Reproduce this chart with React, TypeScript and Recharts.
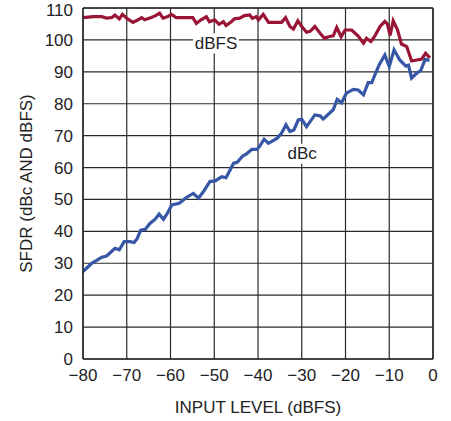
import React from 'react';
import { LineChart, Line, XAxis, YAxis, CartesianGrid, ReferenceDot, ReferenceLine } from 'recharts';

const dbfsX = [-80, -77.6, -75.7, -74.6, -73.4, -72.7, -71.7, -71.0, -70.0, -68.6, -67.4, -66.6, -65.9, -64.4, -63.4, -62.5, -61.7, -60.6, -59.8, -58.7, -54.9, -54.1, -53.0, -51.8, -51.1, -49.9, -48.9, -47.9, -47.3, -46.1, -45.4, -44.2, -43.1, -41.9, -41.3, -40.4, -39.9, -38.8, -37.6, -34.6, -33.7, -32.7, -31.9, -30.9, -30.0, -28.9, -28.1, -27.0, -25.8, -24.8, -23.9, -22.8, -22.0, -21.0, -20.1, -18.6, -17.8, -17.1, -15.9, -15.2, -14.2, -13.3, -12.1, -11.0, -10.4, -9.8, -9.1, -8.1, -7.2, -6.0, -4.9, -3.7, -2.6, -1.7, -0.7];
const dbfsY = [107.0, 107.3, 107.3, 106.8, 107.0, 107.8, 106.6, 108.0, 106.8, 105.5, 106.3, 107.0, 106.3, 107.0, 107.6, 108.4, 106.8, 107.3, 108.0, 107.0, 107.0, 105.2, 106.3, 107.3, 105.7, 106.3, 104.9, 105.7, 104.5, 105.7, 106.6, 106.8, 107.6, 107.8, 106.8, 107.3, 106.3, 108.0, 105.5, 105.5, 107.0, 104.2, 103.4, 106.0, 104.2, 102.4, 102.7, 104.2, 102.1, 100.5, 101.0, 101.3, 103.9, 101.0, 103.1, 103.1, 102.1, 101.2, 99.0, 100.5, 99.5, 101.2, 104.2, 105.8, 104.9, 101.4, 106.0, 103.1, 98.7, 97.9, 93.4, 93.7, 94.0, 95.8, 94.4];

const dbcX = [-80, -78.0, -75.7, -74.6, -72.7, -71.7, -70.6, -69.3, -68.3, -67.6, -66.8, -65.8, -64.7, -63.5, -62.6, -61.6, -60.7, -59.7, -58.0, -56.3, -54.8, -53.6, -52.5, -51.0, -49.8, -48.3, -47.3, -45.6, -44.7, -43.5, -42.6, -41.4, -40.3, -39.7, -38.6, -37.6, -35.6, -34.6, -33.6, -32.7, -31.8, -30.8, -30.0, -28.9, -27.0, -25.8, -25.1, -22.8, -21.9, -20.9, -19.8, -18.2, -17.1, -15.9, -14.8, -14.0, -13.3, -12.3, -11.0, -10.0, -8.9, -7.6, -6.2, -5.6, -4.9, -3.7, -2.8, -1.8, -0.8];
const dbcY = [27.4, 30.0, 31.9, 32.3, 34.7, 34.2, 36.8, 36.8, 36.5, 37.8, 40.4, 40.6, 42.5, 43.8, 45.4, 43.8, 45.7, 48.3, 48.8, 50.7, 51.9, 50.4, 52.4, 55.6, 55.8, 57.1, 56.8, 61.3, 61.7, 63.6, 64.3, 65.7, 65.7, 66.5, 68.9, 67.6, 69.2, 70.8, 73.4, 71.3, 71.8, 74.9, 75.1, 72.8, 76.5, 76.2, 75.2, 78.1, 81.4, 80.3, 83.3, 84.5, 84.3, 82.8, 86.6, 86.6, 89.0, 92.2, 95.3, 91.6, 96.9, 93.7, 91.8, 92.1, 88.0, 89.6, 90.4, 93.9, 93.6];

const xTicks = [-80, -70, -60, -50, -40, -30, -20, -10, 0];
const yTicks = [0, 10, 20, 30, 40, 50, 60, 70, 80, 90, 100, 110];

const dbfsData = dbfsX.map((x, i) => ({ x, y: dbfsY[i] }));
const dbcData = dbcX.map((x, i) => ({ x, y: dbcY[i] }));

const FONT = '"Liberation Sans Narrow", "Arial Narrow", "Liberation Sans", sans-serif';
const RED = '#9a1535';
const BLUE = '#3656a6';
const GRID = '#2a2a2a';

const labelShape = (text: string, w: number) => (props: any) => {
  const { cx, cy } = props;
  return (
    <g>
      <rect x={cx - w / 2} y={cy - 10} width={w} height={20} fill="#fff" />
      <text x={cx} y={cy} textAnchor="middle" dominantBaseline="central" fontFamily={FONT} fontSize={17} fill="#222">{text}</text>
    </g>
  );
};

const fmt = (v: number) => String(v).replace('-', '\u2212');

export default function App() {
  return (
    <div style={{ position: 'absolute', left: 0, top: 0, background: '#fff' }}>
      <LineChart width={451} height={421} margin={{ top: 8, right: 18, left: 0, bottom: 0 }}>
        <CartesianGrid stroke={GRID} strokeWidth={1.2} />
        <XAxis
          type="number"
          dataKey="x"
          domain={[-80, 0]}
          ticks={xTicks}
          tickFormatter={fmt}
          height={62}
          tickSize={0}
          tickMargin={10}
          axisLine={{ stroke: GRID, strokeWidth: 1.5 }}
          tick={{ fontFamily: FONT, fontSize: 17, fill: '#222' }}
          allowDataOverflow
          label={{ value: 'INPUT LEVEL (dBFS)', position: 'insideBottom', offset: 8, style: { fontFamily: FONT, fontSize: 17, fill: '#222' } }}
        />
        <YAxis
          type="number"
          dataKey="y"
          domain={[0, 110]}
          ticks={yTicks}
          width={83}
          tickSize={0}
          tickMargin={10}
          axisLine={{ stroke: GRID, strokeWidth: 1.5 }}
          tick={{ fontFamily: FONT, fontSize: 17, fill: '#222' }}
          allowDataOverflow
          label={{ value: 'SFDR (dBc AND dBFS)', angle: -90, position: 'insideLeft', offset: 26, style: { fontFamily: FONT, fontSize: 17, fill: '#222', textAnchor: 'middle' } }}
        />
        <ReferenceLine y={110} stroke={GRID} strokeWidth={1.5} />
        <ReferenceLine x={0} stroke={GRID} strokeWidth={1.5} />
        <ReferenceDot x={-49.6} y={98.9} r={0} shape={labelShape('dBFS', 46)} />
        <ReferenceDot x={-29.9} y={64.3} r={0} shape={labelShape('dBc', 38)} />
        <Line data={dbfsData} dataKey="y" type="linear" stroke={RED} strokeWidth={3.2} dot={false} isAnimationActive={false} />
        <Line data={dbcData} dataKey="y" type="linear" stroke={BLUE} strokeWidth={3.2} dot={false} isAnimationActive={false} />
      </LineChart>
    </div>
  );
}
